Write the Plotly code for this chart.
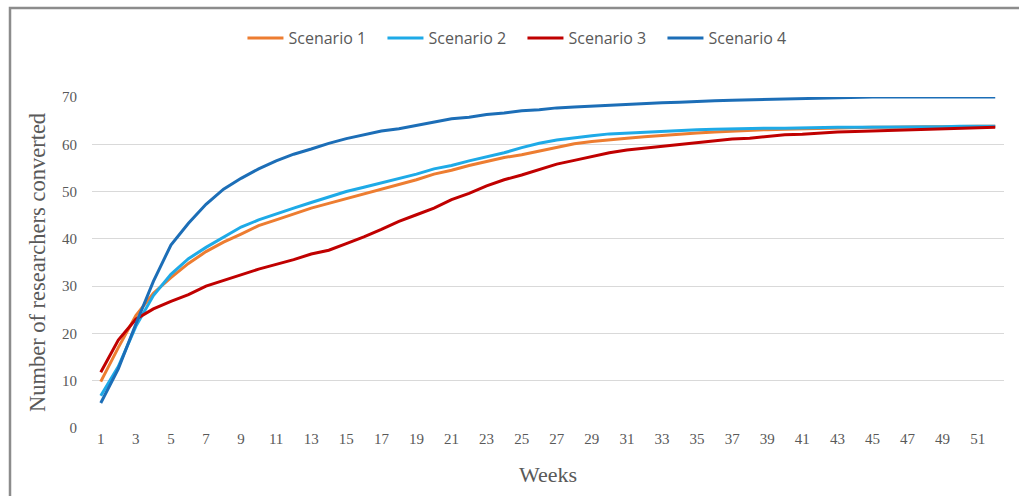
import plotly.graph_objects as go

weeks = list(range(1, 53))

scenario_1 = [9.8, 17.0, 23.8, 28.5, 31.8, 34.8, 37.3, 39.3, 41.0, 42.8,
              44.0, 45.3, 46.5, 47.5, 48.5, 49.5, 50.5, 51.5, 52.5, 53.7,
              54.5, 55.5, 56.3, 57.2, 57.8, 58.6, 59.4, 60.1, 60.6, 61.0,
              61.3, 61.6, 61.9, 62.2, 62.4, 62.6, 62.8, 62.9, 63.1, 63.2,
              63.3, 63.4, 63.5, 63.5, 63.6, 63.6, 63.7, 63.7, 63.7, 63.8,
              63.8, 63.8]

scenario_2 = [6.8, 13.0, 21.5, 28.0, 32.5, 35.8, 38.2, 40.3, 42.5, 44.0,
              45.3, 46.5, 47.7, 48.8, 50.0, 50.9, 51.8, 52.8, 53.7, 54.8,
              55.5, 56.5, 57.3, 58.2, 59.3, 60.2, 60.9, 61.4, 61.8, 62.2,
              62.4, 62.6, 62.8, 63.0, 63.1, 63.2, 63.3, 63.3, 63.4, 63.4,
              63.5, 63.5, 63.6, 63.6, 63.6, 63.7, 63.7, 63.7, 63.7, 63.8,
              63.8, 63.8]

scenario_3 = [11.8, 18.6, 23.0, 25.2, 26.8, 28.2, 30.0, 31.2, 32.4, 33.6,
              34.6, 35.6, 36.8, 37.6, 39.0, 40.4, 42.0, 43.7, 45.1, 46.5,
              48.3, 49.6, 51.2, 52.5, 53.5, 54.7, 55.8, 56.6, 57.4, 58.2,
              58.8, 59.2, 59.6, 60.0, 60.4, 60.7, 61.1, 61.3, 61.6, 62.0,
              62.1, 62.4, 62.6, 62.7, 62.8, 62.9, 63.0, 63.1, 63.2, 63.3,
              63.5, 63.6]

scenario_4 = [5.3, 12.5, 22.0, 31.0, 38.7, 43.3, 47.3, 50.5, 52.8, 54.8,
              56.5, 57.9, 59.0, 60.2, 61.2, 62.0, 62.8, 63.3, 64.0, 64.6,
              65.4, 65.7, 66.3, 66.6, 67.1, 67.3, 67.7, 67.9, 68.1, 68.3,
              68.4, 68.6, 68.8, 68.9, 69.1, 69.2, 69.3, 69.4, 69.5, 69.6,
              69.7, 69.8, 69.9, 69.9, 70.0, 70.0, 70.0, 70.0, 70.0, 70.0,
              70.0, 70.0]

series_names = ["Scenario 1", "Scenario 2", "Scenario 3", "Scenario 4"]
series_values = [scenario_1, scenario_2, scenario_3, scenario_4]
series_colors = ["#ED7D31", "#1EAAE7", "#C00000", "#1C6EB7"]

x_tick_values = list(range(1, 52, 2))
y_tick_values = [0, 10, 20, 30, 40, 50, 60, 70]

fig = go.Figure()
for name, vals, color in zip(series_names, series_values, series_colors):
    fig.add_trace(go.Scatter(
        x=weeks, y=vals, mode="lines", name=name,
        line=dict(color=color, width=3),
        cliponaxis=False,
    ))

serif = "Liberation Serif, Times New Roman, serif"
grey = "#595959"

fig.update_layout(
    width=1019, height=496,
    margin=dict(l=92, r=15, t=97, b=68),
    paper_bgcolor="white", plot_bgcolor="white",
    showlegend=True,
    legend=dict(
        orientation="h", x=0.472, xanchor="center", y=1.178, yanchor="middle",
        font=dict(family="Open Sans, Liberation Sans, sans-serif", size=16, color=grey),
        itemwidth=36, entrywidth=89, entrywidthmode="pixels",
        tracegroupgap=0, bgcolor="rgba(0,0,0,0)",
    ),
    xaxis=dict(
        range=[0.5, 52.5], tickmode="array", tickvals=x_tick_values,
        ticktext=[str(v) for v in x_tick_values],
        showgrid=False, zeroline=False, showline=False, ticks="",
        tickfont=dict(family=serif, size=15, color=grey),
        title=dict(text="Weeks", font=dict(family=serif, size=22, color=grey), standoff=20),
    ),
    yaxis=dict(
        range=[0, 70], tickmode="array", tickvals=y_tick_values,
        showgrid=True, gridcolor="#D9D9D9", gridwidth=1,
        zeroline=False, showline=False, ticks="",
        ticklabelstandoff=14,
        tickfont=dict(family=serif, size=15, color=grey),
        title=dict(text="Number of researchers converted",
                   font=dict(family=serif, size=22.5, color=grey), standoff=10),
    ),
)

# outer frame around the chart area
fig.add_shape(
    type="rect", xref="paper", yref="paper",
    x0=(10 - 92) / 912, x1=1.2, y0=-0.6, y1=(428 - 8) / 331,
    line=dict(color="#8C8C8C", width=2.5), fillcolor="rgba(0,0,0,0)",
    layer="below",
)

fig.write_html("out.html")
